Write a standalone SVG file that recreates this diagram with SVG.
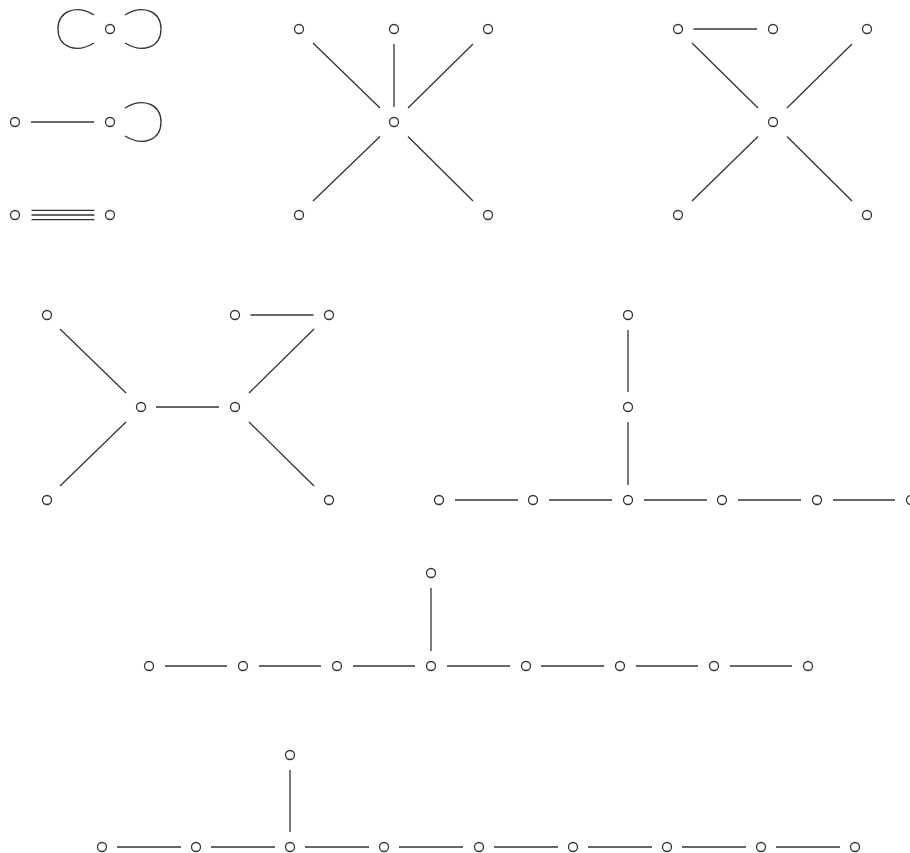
<svg xmlns="http://www.w3.org/2000/svg" width="910" height="853" viewBox="0 0 910 853">
<style>
.n{fill:none;stroke:#333;stroke-width:1.3}
.e{fill:none;stroke:#333;stroke-width:1.3}
</style>
<rect width="910" height="853" fill="#fff"/>
<g id="connectors" class="e">
<!-- graph 1 -->
<path d="M94,15 C76,4 58,11 58,29 C58,47 76,54 94,43"/>
<path d="M125,15 C143,4 161,11 161,29 C161,47 143,54 125,43"/>
<line x1="31" y1="122" x2="94" y2="122"/>
<path d="M125,108 C143,97 161,104 161,122 C161,140 143,147 125,136"/>
<line x1="31.5" y1="210.3" x2="94.5" y2="210.3"/>
<line x1="31.5" y1="215" x2="94.5" y2="215"/>
<line x1="31.5" y1="219.7" x2="94.5" y2="219.7"/>
<!-- star 1 -->
<line x1="313" y1="43" x2="380" y2="108"/>
<line x1="394" y1="44" x2="394" y2="107"/>
<line x1="408" y1="108" x2="473" y2="44"/>
<line x1="380" y1="136.5" x2="313" y2="201"/>
<line x1="408" y1="136.5" x2="473" y2="201"/>
<!-- star 2 -->
<line x1="693.5" y1="29" x2="757" y2="29"/>
<line x1="692" y1="43" x2="758" y2="108"/>
<line x1="787" y1="108" x2="852" y2="44"/>
<line x1="758" y1="136.5" x2="692" y2="201"/>
<line x1="787" y1="136.5" x2="852" y2="201"/>
<!-- graph 4 -->
<line x1="250.5" y1="315" x2="313.5" y2="315"/>
<line x1="156" y1="407" x2="219" y2="407"/>
<line x1="60" y1="329" x2="126" y2="393"/>
<line x1="126" y1="422" x2="60" y2="486"/>
<line x1="249" y1="393" x2="314" y2="329"/>
<line x1="249" y1="422" x2="314" y2="486"/>
<!-- graph 5 -->
<line x1="628" y1="330" x2="628" y2="392"/>
<line x1="628" y1="422" x2="628" y2="485"/>
<line x1="455" y1="500" x2="518" y2="500"/>
<line x1="549" y1="500" x2="612" y2="500"/>
<line x1="644" y1="500" x2="707" y2="500"/>
<line x1="738" y1="500" x2="801" y2="500"/>
<line x1="833" y1="500" x2="895" y2="500"/>
<!-- graph 6 -->
<line x1="431" y1="588" x2="431" y2="651"/>
<line x1="165" y1="666" x2="227" y2="666"/>
<line x1="259" y1="666" x2="321" y2="666"/>
<line x1="353" y1="666" x2="415" y2="666"/>
<line x1="447" y1="666" x2="510" y2="666"/>
<line x1="541" y1="666" x2="604" y2="666"/>
<line x1="636" y1="666" x2="698" y2="666"/>
<line x1="730" y1="666" x2="792" y2="666"/>
<!-- graph 7 -->
<line x1="290" y1="770" x2="290" y2="832"/>
<line x1="117" y1="847" x2="181" y2="847"/>
<line x1="211" y1="847" x2="275" y2="847"/>
<line x1="305" y1="847" x2="369" y2="847"/>
<line x1="399" y1="847" x2="463" y2="847"/>
<line x1="494" y1="847" x2="558" y2="847"/>
<line x1="588" y1="847" x2="652" y2="847"/>
<line x1="682" y1="847" x2="746" y2="847"/>
<line x1="776" y1="847" x2="840" y2="847"/>
</g>
<g id="g1">
<g id="n1"><circle class="n" cx="110" cy="29" r="4.5"/></g>
<g id="n2"><circle class="n" cx="15" cy="122" r="4.5"/></g>
<g id="n3"><circle class="n" cx="110" cy="122" r="4.5"/></g>
<g id="n4"><circle class="n" cx="15" cy="215" r="4.5"/></g>
<g id="n5"><circle class="n" cx="110" cy="215" r="4.5"/></g>
</g>
<g id="g2">
<g id="s1c"><circle class="n" cx="394" cy="122" r="4.5"/></g>
<g id="s1a"><circle class="n" cx="299" cy="29" r="4.5"/></g>
<g id="s1b"><circle class="n" cx="394" cy="29" r="4.5"/></g>
<g id="s1d"><circle class="n" cx="488" cy="29" r="4.5"/></g>
<g id="s1e"><circle class="n" cx="299" cy="215" r="4.5"/></g>
<g id="s1f"><circle class="n" cx="488" cy="215" r="4.5"/></g>
</g>
<g id="g3">
<g id="s2c"><circle class="n" cx="773" cy="122" r="4.5"/></g>
<g id="s2a"><circle class="n" cx="678" cy="29" r="4.5"/></g>
<g id="s2b"><circle class="n" cx="773" cy="29" r="4.5"/></g>
<g id="s2d"><circle class="n" cx="867" cy="29" r="4.5"/></g>
<g id="s2e"><circle class="n" cx="678" cy="215" r="4.5"/></g>
<g id="s2f"><circle class="n" cx="867" cy="215" r="4.5"/></g>
</g>
<g id="g4">
<g id="t1"><circle class="n" cx="47" cy="315" r="4.5"/></g>
<g id="t2"><circle class="n" cx="235" cy="315" r="4.5"/></g>
<g id="t3"><circle class="n" cx="329" cy="315" r="4.5"/></g>
<g id="t4"><circle class="n" cx="141" cy="407" r="4.5"/></g>
<g id="t5"><circle class="n" cx="235" cy="407" r="4.5"/></g>
<g id="t6"><circle class="n" cx="47" cy="500" r="4.5"/></g>
<g id="t7"><circle class="n" cx="329" cy="500" r="4.5"/></g>
</g>
<g id="g5">
<g id="u1"><circle class="n" cx="628" cy="315" r="4.5"/></g>
<g id="u2"><circle class="n" cx="628" cy="407" r="4.5"/></g>
<g id="u3"><circle class="n" cx="439" cy="500" r="4.5"/></g>
<g id="u4"><circle class="n" cx="533" cy="500" r="4.5"/></g>
<g id="u5"><circle class="n" cx="628" cy="500" r="4.5"/></g>
<g id="u6"><circle class="n" cx="722" cy="500" r="4.5"/></g>
<g id="u7"><circle class="n" cx="817" cy="500" r="4.5"/></g>
<g id="u8"><circle class="n" cx="911" cy="500" r="4.5"/></g>
</g>
<g id="g6">
<g id="v0"><circle class="n" cx="431" cy="573" r="4.5"/></g>
<g id="v1"><circle class="n" cx="149" cy="666" r="4.5"/></g>
<g id="v2"><circle class="n" cx="243" cy="666" r="4.5"/></g>
<g id="v3"><circle class="n" cx="337" cy="666" r="4.5"/></g>
<g id="v4"><circle class="n" cx="431" cy="666" r="4.5"/></g>
<g id="v5"><circle class="n" cx="526" cy="666" r="4.5"/></g>
<g id="v6"><circle class="n" cx="620" cy="666" r="4.5"/></g>
<g id="v7"><circle class="n" cx="714" cy="666" r="4.5"/></g>
<g id="v8"><circle class="n" cx="808" cy="666" r="4.5"/></g>
</g>
<g id="g7">
<g id="w0"><circle class="n" cx="290" cy="755" r="4.5"/></g>
<g id="w1"><circle class="n" cx="102" cy="847" r="4.5"/></g>
<g id="w2"><circle class="n" cx="196" cy="847" r="4.5"/></g>
<g id="w3"><circle class="n" cx="290" cy="847" r="4.5"/></g>
<g id="w4"><circle class="n" cx="384" cy="847" r="4.5"/></g>
<g id="w5"><circle class="n" cx="479" cy="847" r="4.5"/></g>
<g id="w6"><circle class="n" cx="573" cy="847" r="4.5"/></g>
<g id="w7"><circle class="n" cx="667" cy="847" r="4.5"/></g>
<g id="w8"><circle class="n" cx="761" cy="847" r="4.5"/></g>
<g id="w9"><circle class="n" cx="855" cy="847" r="4.5"/></g>
</g>
</svg>
